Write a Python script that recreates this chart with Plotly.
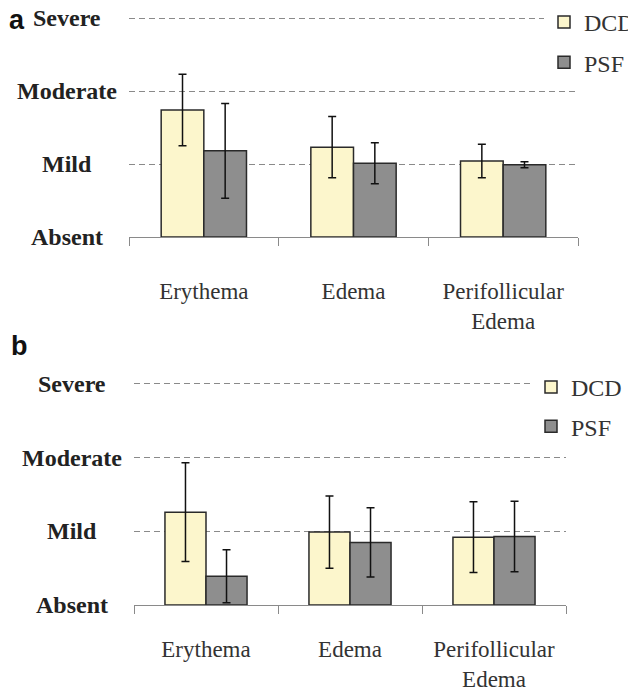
import plotly.graph_objects as go

categories = ["Erythema", "Edema", "Perifollicular<br>Edema"]
level_values = [0, 1, 2, 3]
level_labels = ["Absent", "Mild", "Moderate", "Severe"]

a_dcd = [1.74, 1.23, 1.04]
a_dcd_err = [0.49, 0.42, 0.23]
a_psf = [1.18, 1.01, 0.99]
a_psf_err = [0.65, 0.28, 0.04]

b_dcd = [1.26, 0.99, 0.92]
b_dcd_err = [0.67, 0.49, 0.48]
b_psf = [0.39, 0.85, 0.93]
b_psf_err = [0.36, 0.47, 0.48]

# page body has an 8px margin: lay the figure out in window pixels minus that offset
OFF = 8
W, H = 636 - OFF, 695 - OFF


def px(x):
    return (x - OFF) / W


def py(y):
    return 1 - (y - OFF) / H


DCD_COLOR = "#FCF6CC"
PSF_COLOR = "#8E8E8E"
EDGE = "#2a2a2a"
SERIF = "Liberation Serif"
TOP = 3.05

fig = go.Figure()


def add_bar(name, y, err, color, xa, ya, legend):
    fig.add_trace(go.Bar(
        x=categories, y=y, name=name, legend=legend, legendgroup=legend + name,
        marker=dict(color=color, line=dict(color=EDGE, width=1.5)),
        error_y=dict(type="data", array=err, visible=True, color="#111111",
                     thickness=1.5, width=4),
        xaxis=xa, yaxis=ya,
    ))


add_bar("DCD", a_dcd, a_dcd_err, DCD_COLOR, "x", "y", "legend")
add_bar("PSF", a_psf, a_psf_err, PSF_COLOR, "x", "y", "legend")
add_bar("DCD", b_dcd, b_dcd_err, DCD_COLOR, "x2", "y2", "legend2")
add_bar("PSF", b_psf, b_psf_err, PSF_COLOR, "x2", "y2", "legend2")

xcommon = dict(
    type="category", showline=True, linecolor="#8a8a8a", linewidth=1,
    ticks="outside", tickson="boundaries", ticklen=8, tickcolor="#8a8a8a",
    tickfont=dict(family=SERIF, size=23, color="#333333"),
    showgrid=False, zeroline=False,
)
ycommon = dict(
    range=[0, TOP], tickvals=level_values[1:], showticklabels=False,
    showgrid=True, gridcolor="#8a8a8a", gridwidth=1, griddash="6px,4px",
    zeroline=False, showline=False, ticks="",
)

# panel a: y=0 at 237px, 73 px per level; panel b: y=0 at 605px, 73.67 px per level
a_top = 237 - TOP * 73.0
b_top = 605 - TOP * 73.67

fig.update_layout(
    width=W, height=H, margin=dict(l=0, r=0, t=0, b=0, autoexpand=False),
    paper_bgcolor="white", plot_bgcolor="white",
    barmode="group", bargap=0.43, bargroupgap=0,
    xaxis=dict(domain=[px(129), px(578)], anchor="y", ticklabelstandoff=33, **xcommon),
    yaxis=dict(domain=[py(237), py(a_top)], anchor="x", **ycommon),
    xaxis2=dict(domain=[px(134), px(566)], anchor="y2", ticklabelstandoff=23, **xcommon),
    yaxis2=dict(domain=[py(605), py(b_top)], anchor="x2", **ycommon),
    legend=dict(x=px(544), y=py(0), xanchor="left", yanchor="top",
                bgcolor="white", tracegroupgap=6,
                font=dict(family=SERIF, size=24, color="#333333")),
    legend2=dict(x=px(531), y=py(365), xanchor="left", yanchor="top",
                 bgcolor="white", tracegroupgap=5,
                 font=dict(family=SERIF, size=24, color="#333333")),
    showlegend=True,
)

annotations = []
for yref, xc in (("y", 67), ("y2", 72)):
    for v, lab in zip(level_values, level_labels):
        annotations.append(dict(
            text=lab, x=px(xc), xref="paper", y=v, yref=yref,
            xanchor="center", yanchor="middle", showarrow=False,
            font=dict(family=SERIF, size=24, color="#222222", weight="bold"),
        ))
for letter, lx, ly in (("a", 7, 20), ("b", 9, 346)):
    annotations.append(dict(text=letter, x=px(lx), y=py(ly), xref="paper", yref="paper",
                            xanchor="left", yanchor="middle", showarrow=False,
                            font=dict(family="Liberation Sans", size=27,
                                      color="#111111", weight="bold")))
fig.update_layout(annotations=annotations)

fig.write_html("out.html")
